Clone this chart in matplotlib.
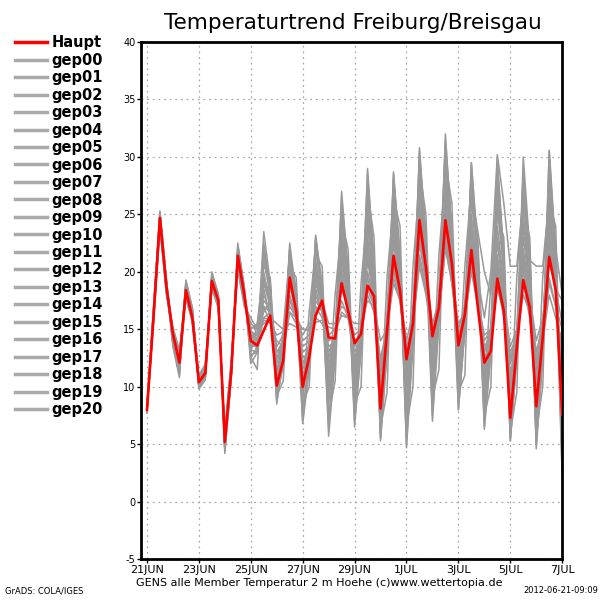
#!/usr/bin/env python3
"""GENS ensemble temperature trend for Freiburg/Breisgau"""
import numpy as np
import matplotlib
matplotlib.use("Agg")
import matplotlib.pyplot as plt

# 6-hourly steps from 21JUN 00Z to 7JUL 00Z
n_steps = 65
tick_labels = ["21JUN", "23JUN", "25JUN", "27JUN", "29JUN",
               "1JUL", "3JUL", "5JUL", "7JUL"]

haupt = [8.0, 16.0, 24.7, 18.7, 14.6, 12.1, 18.4, 16.0, 10.4, 11.2, 19.2, 17.5, 5.2, 11.4, 21.4, 18.0,
         14.0, 13.6, 14.9, 16.2, 10.1, 12.3, 19.5, 16.6, 10.0, 12.6, 16.2, 17.5, 14.3, 14.2, 19.0, 16.6,
         13.8, 14.6, 18.8, 17.9, 8.1, 14.9, 21.4, 18.4, 12.4, 15.5, 24.5, 20.4, 14.4, 16.9, 24.5, 20.7,
         13.6, 16.3, 21.9, 16.9, 12.1, 13.1, 19.4, 16.6, 7.3, 13.4, 19.3, 16.9, 8.3, 14.3, 21.3, 18.4,
         7.6]

gep00 = [8.1, 16.3, 25.0, 19.0, 14.2, 12.5, 18.9, 16.4, 10.6, 11.0, 19.6, 17.1, 5.6, 11.8, 21.9, 17.6,
         14.5, 14.2, 17.5, 16.8, 11.0, 13.0, 21.0, 17.5, 11.5, 13.5, 20.0, 17.0, 12.0, 14.0, 22.5, 18.5,
         11.0, 15.0, 24.0, 19.0, 10.0, 15.5, 25.0, 19.5, 11.0, 16.0, 26.5, 21.0, 12.5, 17.0, 27.0, 21.5,
         13.0, 16.5, 24.0, 18.5, 11.0, 14.0, 23.0, 18.0, 9.0, 14.5, 24.5, 19.0, 10.0, 15.0, 25.0, 19.5,
         9.0]
gep01 = [7.9, 15.8, 24.5, 18.5, 14.0, 11.8, 17.9, 15.6, 10.2, 11.5, 19.0, 17.8, 5.0, 11.0, 21.2, 18.3,
         13.2, 13.0, 19.5, 17.5, 9.5, 13.5, 22.0, 18.0, 9.0, 14.0, 23.0, 19.0, 10.0, 15.0, 26.0, 20.0,
         9.5, 16.0, 28.5, 21.0, 7.0, 16.5, 28.0, 21.5, 8.5, 17.0, 30.0, 23.0, 11.0, 18.5, 31.0, 23.5,
         12.0, 17.5, 28.5, 21.0, 9.0, 15.5, 27.0, 20.0, 7.5, 15.0, 28.0, 21.0, 6.0, 14.5, 27.5, 20.0,
         6.5]
gep02 = [8.2, 16.1, 24.0, 18.9, 14.8, 12.8, 18.0, 16.6, 10.8, 11.8, 18.6, 17.0, 5.8, 11.6, 20.8, 17.5,
         15.5, 15.0, 15.8, 15.6, 14.5, 14.8, 15.5, 15.2, 15.0, 14.9, 15.6, 15.8, 15.2, 15.0, 16.2, 16.0,
         15.5, 15.5, 17.5, 17.0, 14.0, 15.0, 19.0, 17.5, 13.5, 15.5, 21.0, 18.5, 14.5, 16.0, 22.0, 19.0,
         14.0, 15.5, 20.5, 17.5, 13.5, 14.5, 19.5, 17.0, 12.5, 14.5, 20.0, 17.5, 12.0, 14.5, 19.0, 17.0,
         15.0]
gep03 = [7.8, 16.5, 25.3, 19.3, 13.8, 11.5, 19.3, 16.8, 10.0, 10.8, 20.0, 18.0, 4.5, 11.0, 22.5, 18.5,
         12.5, 13.5, 23.5, 19.0, 9.0, 12.0, 20.5, 19.5, 8.0, 12.5, 21.5, 20.5, 7.0, 13.5, 24.5, 22.0,
         8.0, 14.5, 27.0, 23.0, 5.5, 14.0, 26.5, 24.0, 6.0, 15.0, 29.0, 25.0, 9.0, 17.0, 29.5, 26.0,
         10.0, 16.0, 26.0, 23.0, 8.0, 14.0, 25.0, 23.0, 6.0, 13.5, 25.5, 23.0, 5.0, 13.0, 26.0, 24.0,
         4.5]
gep04 = [8.0, 15.5, 23.8, 18.3, 15.0, 12.9, 17.6, 15.8, 10.9, 11.6, 18.8, 16.8, 6.0, 12.0, 20.3, 17.2,
         14.8, 14.5, 16.5, 17.5, 12.0, 14.0, 19.0, 16.0, 12.5, 13.0, 17.5, 16.5, 13.0, 14.5, 20.0, 17.0,
         12.0, 14.0, 21.5, 18.0, 9.0, 14.5, 23.0, 19.0, 10.0, 15.5, 25.0, 20.0, 13.0, 16.5, 25.5, 20.5,
         14.0, 16.0, 23.0, 18.0, 12.5, 14.0, 21.5, 17.5, 11.0, 14.5, 22.0, 18.0, 10.5, 15.0, 23.0, 18.5,
         11.0]
gep05 = [8.3, 16.8, 24.9, 18.2, 14.4, 12.3, 18.6, 15.5, 10.3, 11.3, 19.4, 17.6, 4.8, 11.6, 21.6, 18.2,
         13.5, 14.0, 21.0, 18.0, 8.5, 12.5, 22.0, 17.5, 7.0, 12.0, 23.0, 18.0, 6.5, 13.0, 27.0, 20.0,
         7.5, 14.0, 29.0, 20.5, 6.0, 13.5, 28.5, 21.0, 5.0, 14.5, 30.5, 22.5, 8.0, 16.5, 32.0, 23.0,
         9.0, 15.5, 29.5, 21.5, 7.0, 13.5, 29.5, 21.0, 5.5, 13.0, 30.0, 22.0, 5.0, 13.0, 30.5, 21.0,
         3.5]
gep06 = [8.1, 16.2, 24.3, 19.1, 14.9, 13.0, 18.2, 16.2, 10.5, 11.4, 19.0, 17.3, 5.4, 11.3, 21.0, 17.8,
         14.2, 14.8, 18.5, 16.0, 13.0, 14.0, 17.5, 16.5, 14.0, 14.5, 18.0, 16.5, 14.0, 14.5, 18.5, 17.0,
         13.0, 14.5, 20.0, 17.5, 11.0, 15.0, 21.0, 18.0, 12.0, 15.5, 22.5, 19.0, 14.0, 16.5, 23.0, 19.5,
         14.5, 16.0, 20.0, 17.0, 13.0, 14.5, 18.5, 16.5, 12.0, 14.5, 18.0, 16.5, 12.5, 15.0, 19.5, 17.0,
         13.0]
gep07 = [7.7, 15.9, 24.6, 18.8, 13.5, 10.8, 19.0, 16.5, 9.9, 11.0, 19.8, 17.9, 4.2, 10.8, 22.0, 18.6,
         12.0, 13.0, 22.5, 18.5, 10.0, 13.0, 20.0, 17.0, 9.5, 13.0, 22.5, 18.0, 8.5, 14.0, 25.5, 19.5,
         6.5, 13.5, 26.0, 19.5, 5.3, 13.0, 27.5, 20.5, 4.7, 13.5, 28.5, 21.0, 7.0, 15.5, 29.0, 21.5,
         8.0, 15.0, 27.0, 20.0, 6.3, 13.0, 28.0, 20.5, 5.3, 12.5, 28.5, 21.0, 4.6, 12.5, 29.0, 20.5,
         2.0]
gep08 = [8.0, 16.6, 25.1, 18.6, 14.5, 12.0, 18.3, 16.1, 10.7, 11.7, 19.3, 17.4, 5.3, 11.9, 21.5, 18.1,
         13.8, 14.3, 20.0, 17.0, 11.5, 13.5, 18.0, 16.0, 10.5, 13.0, 18.5, 16.5, 11.5, 14.0, 21.0, 18.0,
         10.5, 14.5, 23.0, 18.5, 8.5, 14.5, 24.0, 19.0, 9.5, 15.0, 25.5, 20.5, 12.0, 17.0, 26.0, 21.0,
         12.5, 16.5, 25.0, 19.5, 10.0, 14.5, 24.0, 19.0, 8.5, 14.0, 25.0, 19.5, 8.0, 14.0, 26.0, 19.0,
         7.0]
gep09 = [8.2, 15.7, 24.2, 18.4, 14.3, 12.6, 18.7, 16.3, 10.1, 11.1, 18.9, 17.2, 5.5, 11.5, 20.6, 17.4,
         14.6, 13.2, 16.0, 16.5, 12.5, 13.0, 16.5, 16.0, 15.0, 15.0, 16.5, 17.5, 15.5, 15.5, 17.0, 16.5,
         14.5, 15.0, 18.5, 17.0, 12.0, 15.5, 20.0, 18.0, 14.0, 16.5, 23.0, 20.0, 15.5, 17.5, 24.0, 20.5,
         15.0, 17.0, 22.5, 18.0, 14.0, 15.0, 20.5, 17.5, 13.5, 15.0, 20.5, 18.0, 14.0, 16.0, 21.0, 18.5,
         17.5]
gep10 = [7.9, 16.4, 24.8, 19.2, 13.9, 11.2, 18.8, 16.7, 10.4, 11.5, 19.5, 17.7, 4.6, 11.2, 21.8, 18.4,
         13.0, 15.5, 20.5, 19.5, 10.5, 15.0, 21.5, 18.5, 9.0, 16.5, 22.0, 18.5, 9.5, 18.0, 24.0, 19.0,
         9.0, 19.0, 25.5, 20.0, 7.5, 19.5, 26.0, 20.5, 7.5, 20.5, 27.5, 21.5, 10.0, 21.5, 28.5, 22.0,
         10.5, 20.5, 27.5, 22.0, 9.5, 19.0, 26.5, 20.5, 7.0, 19.5, 27.0, 20.5, 7.0, 19.5, 27.0, 20.0,
         5.5]
gep11 = [8.1, 16.0, 24.4, 18.7, 14.7, 12.7, 18.1, 15.9, 10.6, 11.9, 18.7, 17.0, 5.9, 12.2, 20.5, 17.3,
         15.0, 15.5, 19.0, 17.0, 13.5, 14.5, 19.0, 16.5, 12.0, 13.5, 19.0, 17.0, 13.5, 14.0, 20.5, 17.5,
         13.5, 15.0, 22.0, 18.5, 10.5, 15.0, 22.5, 18.5, 11.5, 16.0, 24.0, 19.5, 13.5, 16.5, 24.5, 20.0,
         13.5, 16.0, 23.5, 19.0, 12.0, 14.5, 22.5, 18.5, 10.0, 14.0, 23.0, 18.5, 9.5, 14.5, 23.5, 18.5,
         10.0]
gep12 = [8.0, 16.2, 24.9, 18.9, 14.1, 11.9, 18.5, 16.0, 10.2, 11.2, 19.1, 17.5, 5.1, 11.4, 21.3, 17.9,
         14.0, 14.0, 18.0, 16.5, 9.8, 12.0, 20.0, 17.0, 10.5, 12.5, 21.0, 17.5, 12.5, 14.5, 23.0, 18.5,
         10.0, 14.0, 24.5, 19.5, 9.0, 14.5, 25.5, 20.0, 9.5, 15.5, 27.0, 21.5, 11.5, 17.0, 29.0, 22.0,
         11.0, 14.5, 24.0, 19.5, 16.0, 20.0, 30.2, 26.0, 20.5, 20.5, 26.5, 21.0, 20.5, 20.5, 26.5, 22.0,
         18.0]
gep13 = [7.8, 15.6, 24.1, 18.1, 15.2, 13.2, 17.8, 15.7, 11.0, 12.0, 18.5, 16.9, 6.3, 12.4, 20.1, 17.0,
         16.0, 15.0, 17.0, 15.5, 14.0, 13.5, 16.5, 15.5, 13.5, 14.0, 17.0, 16.0, 14.5, 15.0, 17.5, 16.0,
         12.5, 14.5, 19.5, 17.0, 11.5, 15.0, 20.5, 17.5, 12.5, 15.5, 21.5, 18.5, 15.0, 17.0, 23.5, 19.0,
         15.5, 16.5, 21.0, 17.5, 14.5, 15.0, 19.0, 16.0, 13.0, 14.5, 19.0, 16.0, 11.5, 14.0, 18.0, 16.0,
         14.0]
gep14 = [8.4, 16.7, 25.2, 19.4, 13.6, 11.0, 19.2, 16.9, 9.8, 10.6, 19.9, 18.1, 4.4, 10.9, 22.3, 18.8,
         12.8, 13.0, 21.5, 19.0, 8.8, 12.0, 22.5, 18.0, 6.8, 11.5, 23.2, 18.5, 5.7, 12.5, 26.5, 20.0,
         7.0, 13.0, 27.5, 20.0, 5.8, 13.0, 28.7, 21.5, 5.5, 14.0, 30.8, 23.0, 7.5, 16.0, 31.5, 23.5,
         8.0, 15.0, 29.5, 22.0, 6.5, 13.0, 29.8, 21.5, 5.3, 12.5, 29.0, 21.0, 5.5, 13.0, 30.6, 22.0,
         2.5]
gep15 = [8.0, 16.1, 24.6, 18.5, 14.6, 12.4, 18.0, 15.8, 10.4, 11.3, 19.2, 17.6, 5.2, 11.7, 21.1, 17.7,
         14.3, 14.5, 19.5, 18.0, 12.5, 14.0, 20.5, 17.0, 11.0, 13.0, 20.5, 17.0, 11.0, 14.5, 22.0, 18.0,
         11.5, 15.0, 22.5, 18.0, 9.5, 14.5, 23.5, 19.0, 10.5, 15.0, 26.0, 21.0, 12.0, 16.5, 26.5, 21.0,
         12.0, 16.0, 24.5, 19.0, 11.5, 14.0, 23.0, 18.0, 9.5, 14.0, 24.0, 19.0, 9.0, 14.5, 24.5, 19.0,
         8.5]
gep16 = [8.1, 16.4, 24.7, 18.8, 14.0, 12.2, 18.4, 16.5, 10.8, 11.1, 19.0, 17.3, 5.7, 11.8, 21.7, 18.0,
         13.6, 13.5, 17.0, 16.5, 10.8, 13.0, 19.0, 17.5, 12.0, 13.0, 19.5, 17.0, 10.5, 13.5, 21.5, 18.5,
         8.5, 14.0, 24.5, 19.5, 7.5, 14.0, 24.0, 19.0, 9.0, 15.0, 26.5, 21.0, 10.5, 16.0, 27.5, 21.5,
         10.5, 16.0, 26.5, 20.5, 9.0, 14.5, 25.5, 20.0, 7.0, 13.5, 26.5, 20.0, 6.5, 13.5, 28.0, 21.0,
         6.0]
gep17 = [7.9, 15.9, 23.9, 18.0, 14.9, 12.4, 18.8, 16.4, 10.5, 11.6, 19.6, 17.2, 5.4, 11.1, 21.2, 18.2,
         14.9, 14.0, 16.0, 15.8, 13.0, 13.5, 17.5, 16.0, 13.0, 13.5, 18.0, 16.5, 12.5, 14.0, 19.5, 17.0,
         12.0, 14.5, 21.0, 17.5, 10.0, 14.5, 21.5, 18.0, 11.0, 15.0, 23.5, 19.5, 13.0, 16.0, 24.0, 19.5,
         13.0, 15.5, 22.0, 18.0, 12.0, 14.0, 21.0, 17.5, 10.5, 14.0, 21.0, 17.5, 11.0, 14.5, 22.5, 18.0,
         12.0]
gep18 = [8.2, 16.6, 25.0, 19.0, 13.8, 11.4, 19.0, 16.6, 10.0, 10.9, 19.7, 17.8, 4.9, 11.0, 22.1, 18.5,
         12.6, 11.5, 22.0, 18.0, 9.2, 10.5, 21.0, 17.5, 8.5, 10.0, 22.0, 18.0, 7.5, 10.5, 25.0, 19.5,
         8.5, 10.0, 26.5, 20.0, 6.5, 9.5, 27.0, 20.5, 6.5, 10.0, 29.5, 22.5, 9.0, 11.5, 30.5, 23.0,
         9.5, 11.0, 28.5, 21.5, 7.5, 10.0, 28.5, 21.0, 6.0, 9.5, 28.5, 21.0, 6.0, 10.0, 29.5, 21.5,
         4.0]
gep19 = [8.0, 15.8, 24.5, 18.6, 14.5, 12.6, 18.2, 16.0, 10.6, 11.8, 18.9, 17.1, 5.6, 11.6, 20.9, 17.6,
         15.2, 15.0, 15.5, 16.0, 15.5, 15.0, 17.0, 16.0, 14.5, 15.5, 16.0, 15.5, 14.0, 14.5, 16.5, 16.0,
         13.5, 14.5, 18.0, 16.5, 12.5, 15.0, 19.5, 17.5, 13.0, 15.5, 20.5, 18.0, 14.0, 16.0, 22.5, 19.0,
         14.5, 16.5, 22.0, 18.5, 13.0, 15.0, 20.0, 17.0, 12.0, 15.0, 21.5, 18.0, 13.0, 15.5, 22.0, 18.5,
         15.5]
gep20 = [8.1, 16.3, 24.3, 18.4, 14.3, 12.0, 18.6, 16.2, 10.3, 11.4, 19.4, 17.4, 5.0, 11.5, 21.6, 18.0,
         13.4, 13.8, 19.0, 17.5, 11.0, 13.5, 20.0, 18.0, 10.0, 13.5, 20.5, 17.5, 9.0, 13.5, 23.5, 19.0,
         10.0, 14.5, 25.0, 19.5, 8.0, 14.0, 25.5, 20.0, 8.0, 15.0, 28.0, 22.0, 10.5, 16.5, 28.0, 22.0,
         11.0, 16.0, 27.0, 23.5, 20.0, 18.0, 27.5, 21.0, 8.0, 14.0, 27.0, 20.5, 7.5, 14.0, 28.5, 21.0,
         5.0]

members = [gep00, gep01, gep02, gep03, gep04, gep05, gep06, gep07, gep08, gep09,
           gep10, gep11, gep12, gep13, gep14, gep15, gep16, gep17, gep18, gep19, gep20]

days = np.arange(n_steps) * 0.25

fig = plt.figure(figsize=(6, 6), dpi=100)
ax = fig.add_axes([0.235, 0.068, 0.702, 0.862])

for m in members:
    ax.plot(days, m, color="#999999", linewidth=1.1, zorder=2)
ax.plot(days, haupt, color="red", linewidth=1.9, zorder=3)

ax.set_xlim(-0.23, 16.0)
ax.set_ylim(-5, 40)
ax.set_xticks(np.arange(0, 17, 2))
ax.set_xticklabels(tick_labels, fontsize=8)
ax.set_yticks(np.arange(-5, 41, 5))
ax.set_yticklabels([str(v) for v in range(-5, 41, 5)], fontsize=7)
ax.tick_params(direction="out", length=3, width=1, pad=1)
ax.grid(True, color="#aaaaaa", linestyle=(0, (1.5, 3)), linewidth=0.9)
for s in ax.spines.values():
    s.set_linewidth(2)
    s.set_color("black")

fig.text(0.588, 0.962, "Temperaturtrend Freiburg/Breisgau", ha="center",
         va="center", fontsize=15.5)

# legend on the left
handles = [plt.Line2D([], [], color="red", linewidth=2.5)]
handles += [plt.Line2D([], [], color="#aaaaaa", linewidth=2.5) for _ in members]
labels = ["Haupt"] + ["gep%02d" % i for i in range(len(members))]
fig.legend(handles, labels, loc="upper left", bbox_to_anchor=(0.015, 0.951),
           frameon=False, handlelength=2.2, handletextpad=0.3,
           labelspacing=0.17, borderaxespad=0, prop={"weight": "bold", "size": 10.5})

fig.text(0.532, 0.028, "GENS alle Member Temperatur 2 m Hoehe (c)www.wettertopia.de",
         ha="center", va="center", fontsize=8)
fig.text(0.008, 0.008, "GrADS: COLA/IGES", ha="left", va="bottom", fontsize=6)
fig.text(0.997, 0.008, "2012-06-21-09:09", ha="right", va="bottom", fontsize=6)

fig.savefig("out.png", dpi=100)
